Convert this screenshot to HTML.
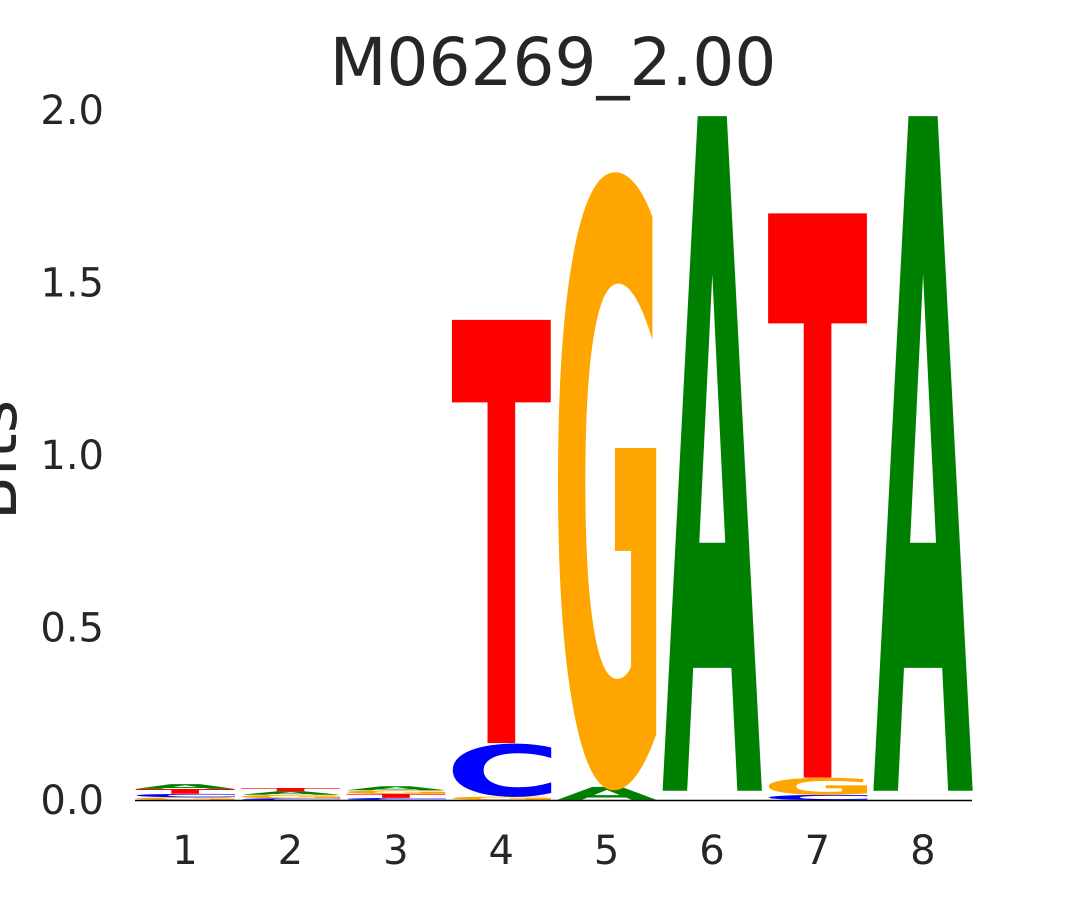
<!DOCTYPE html>
<html><head><meta charset="utf-8">
<style>
html,body{margin:0;padding:0;background:#fff;width:1080px;height:900px;overflow:hidden;}
svg{display:block;font-family:"Liberation Sans","DejaVu Sans",sans-serif;overflow:hidden;}
</style></head>
<body>
<svg id="chart" width="1080" height="900" viewBox="0 0 1080 900">
  <text x="553" y="85" font-size="66" text-anchor="middle" fill="#262626" font-family="DejaVu Sans, sans-serif">M06269_2.00</text>
  <text transform="translate(16,460) rotate(-90)" font-size="64" text-anchor="middle" fill="#262626" font-family="DejaVu Sans, sans-serif">Bits</text>
  <g id="yticks"></g>
  <g id="xticks"></g>
  <g id="letters"></g>
  <line x1="135" x2="972" y1="800.5" y2="800.5" stroke="#000" stroke-width="1.5"/>
</svg>
<script>
const positions = [1,2,3,4,5,6,7,8];
const stackLetters = [
  ['G','C','T','A'],
  ['C','G','A','T'],
  ['C','T','G','A'],
  ['G','C','T'],
  ['A','G'],
  ['A'],
  ['C','G','T'],
  ['A']
];
const stackHeights = [
  [0.008,0.010,0.014,0.014],
  [0.005,0.010,0.010,0.010],
  [0.006,0.012,0.010,0.012],
  [0.010,0.155,1.245],
  [0.038,1.800],
  [1.985],
  [0.015,0.050,1.660],
  [1.985]
];
const yTicks = [0,0.5,1,1.5,2];
const yTickLabels = ['0.0','0.5','1.0','1.5','2.0'];

const colors = {A:'green',C:'blue',G:'orange',T:'red'};
const NS='http://www.w3.org/2000/svg';
const yScale = v => 800 - v*345;
const xScale = p => 185 + (p-1)*105.4;
const colW = 100;

const cv=document.createElement('canvas').getContext('2d');
cv.font='bold 100px "DejaVu Sans"';
function ink(L){
  const m=cv.measureText(L);
  let l=-m.actualBoundingBoxLeft, r=m.actualBoundingBoxRight, a=m.actualBoundingBoxAscent, d=m.actualBoundingBoxDescent;
  if(!(r-l>5) || !(a+d>5)){l=3;r=72;a=72.9;d=0;}
  return {l,r,a,d};
}

const yt = document.getElementById('yticks');
yTicks.forEach((v,i)=>{
  const t=document.createElementNS(NS,'text');
  
  
  t.setAttribute('x',104);t.setAttribute('y',yScale(v)+14);
  t.setAttribute('text-anchor','end');t.setAttribute('font-size','40');
  t.setAttribute('fill','#262626');t.setAttribute('font-family','DejaVu Sans, sans-serif');
  t.textContent=yTickLabels[i];yt.appendChild(t);
});
const xt = document.getElementById('xticks');
positions.forEach(p=>{
  const t=document.createElementNS(NS,'text');
  
  
  t.setAttribute('x',xScale(p));t.setAttribute('y',864);
  t.setAttribute('text-anchor','middle');t.setAttribute('font-size','40');
  t.setAttribute('fill','#262626');t.setAttribute('font-family','DejaVu Sans, sans-serif');
  t.textContent=String(p);xt.appendChild(t);
});

const lg = document.getElementById('letters');
positions.forEach((p,i)=>{
  let base=0;
  stackLetters[i].forEach((L,j)=>{
    const h=stackHeights[i][j];
    const yB=yScale(base), yT=yScale(base+h);
    base+=h;
    const t=document.createElementNS(NS,'text');
    
    
    t.setAttribute('font-size','100');t.setAttribute('font-weight','bold');
    t.setAttribute('font-family','DejaVu Sans, sans-serif');
    t.setAttribute('fill',colors[L]);
    t.textContent=L;
    lg.appendChild(t);
    const k=ink(L);
    const sx=colW/(k.r-k.l), sy=(yB-yT)/(k.a+k.d);
    t.setAttribute('x',-k.l);
    t.setAttribute('y',-k.d);
    t.setAttribute('transform','translate('+(xScale(p)-colW/2)+','+yB+') scale('+sx+','+sy+')');
  });
});
</script>
</body></html>
